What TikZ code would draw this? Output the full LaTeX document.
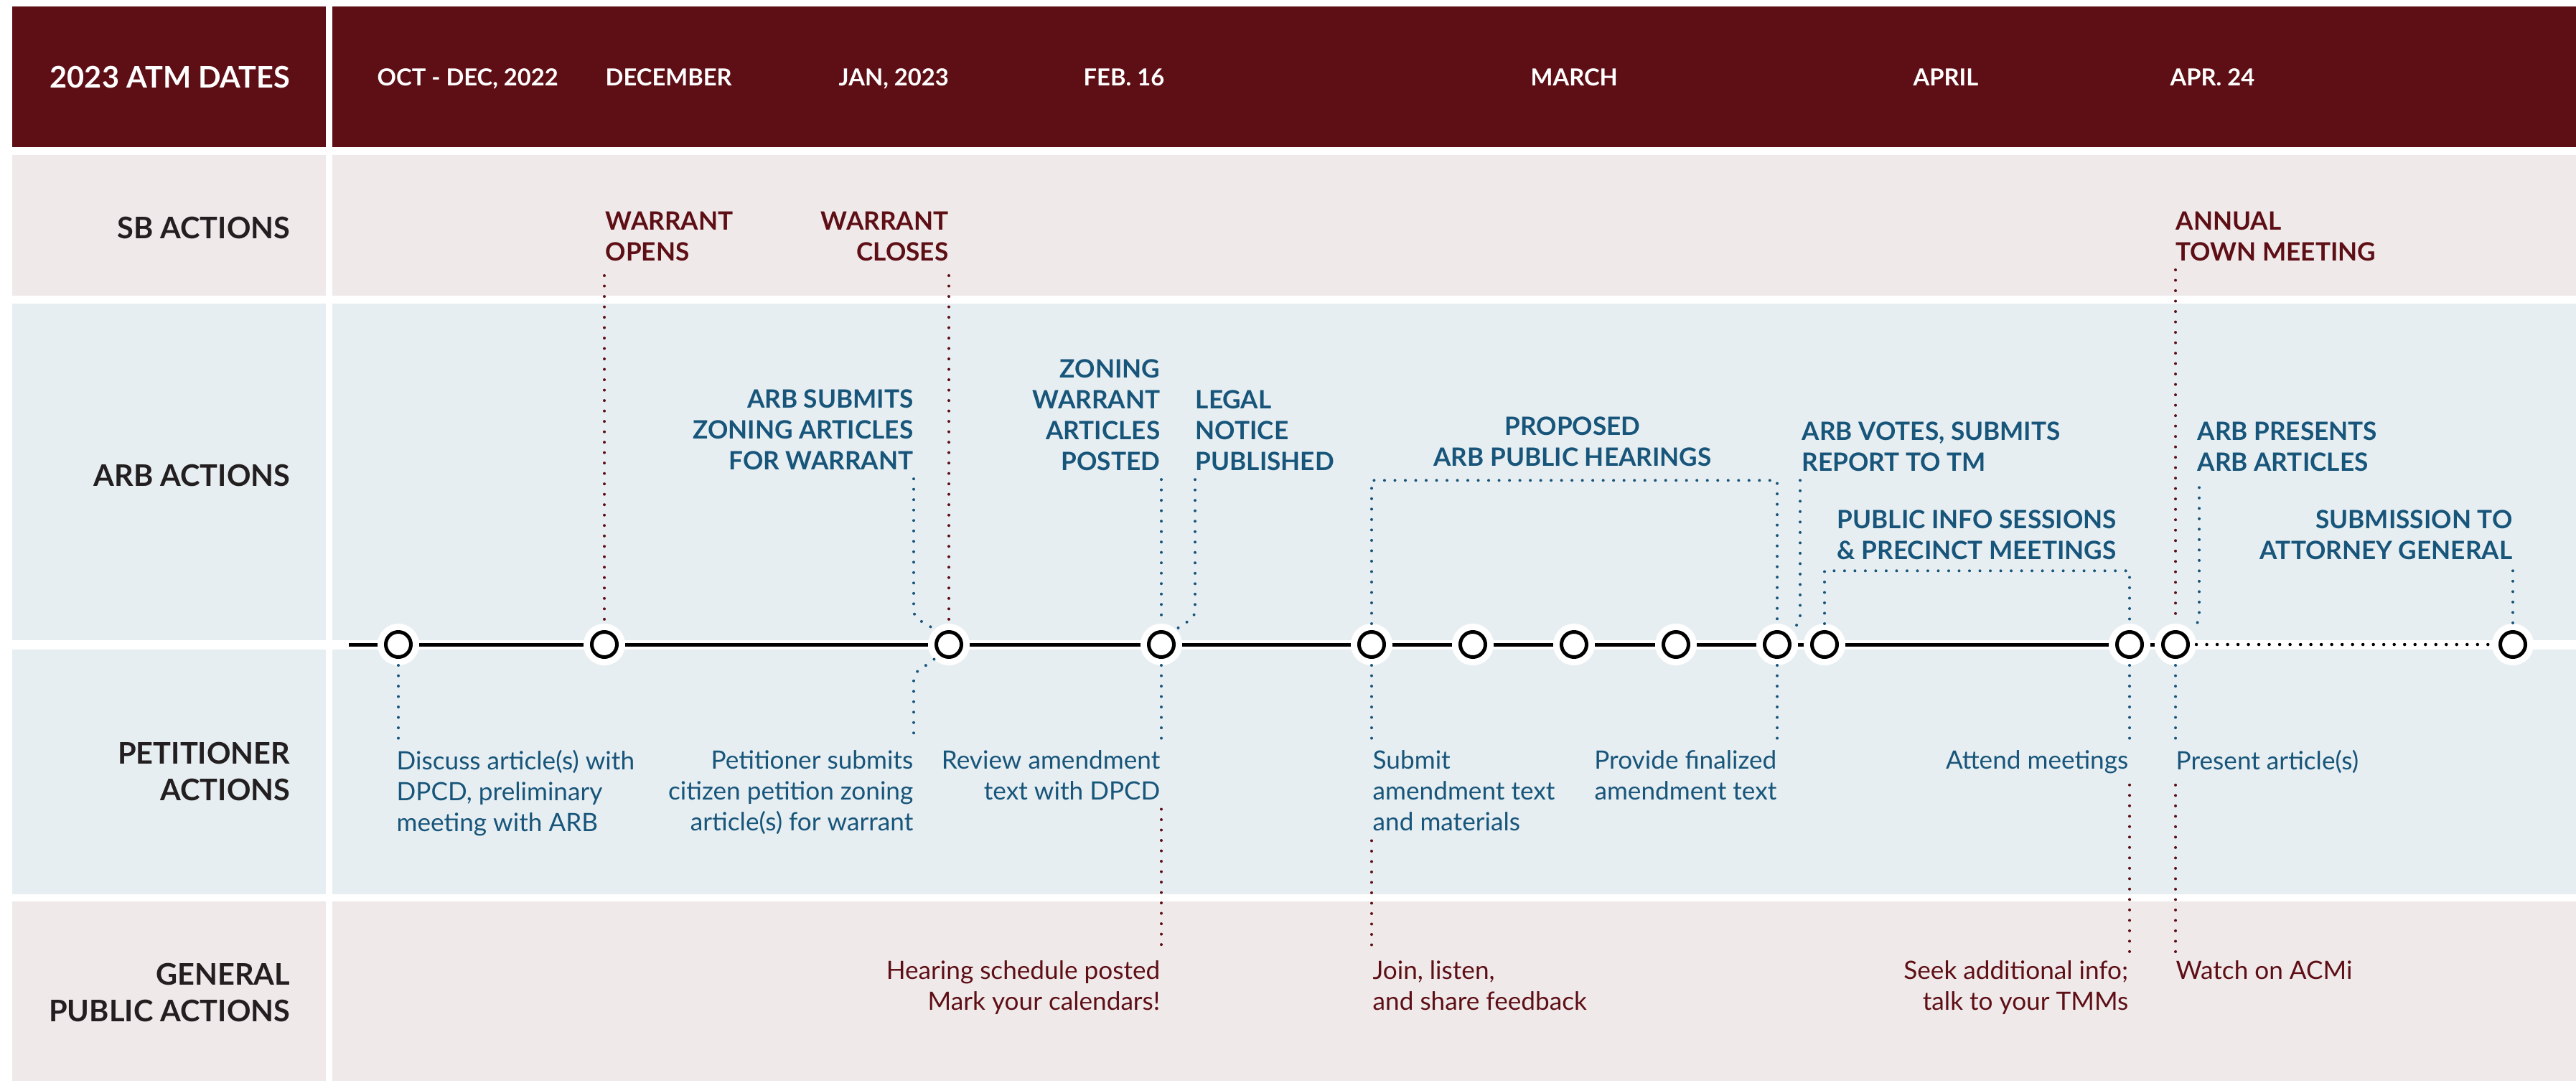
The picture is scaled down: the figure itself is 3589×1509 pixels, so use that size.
\documentclass[tikz,border=0pt]{standalone}
\usepackage{fontspec}
\setmainfont{Lato}
\newcommand{\lineY}{898}

\definecolor{atmred}{HTML}{5E0F15}
\definecolor{atmblue}{HTML}{17557A}
\definecolor{pinkrow}{HTML}{EFE9EA}
\definecolor{bluerow}{HTML}{E7EEF2}
\definecolor{labelink}{HTML}{231F20}

\begin{document}
\begin{tikzpicture}[x=0.01cm, y=-0.01cm,
    rowlabel/.style={anchor=east, align=right, inner sep=0pt, text=labelink, font=\fontsize{11.8}{14.5}\selectfont\bfseries},
    datelabel/.style={anchor=base west, inner sep=0pt, text=white, font=\fontsize{9.3}{12}\selectfont\bfseries},
    sbtext/.style={inner sep=0pt, text=atmred, font=\fontsize{10}{12.2}\selectfont\bfseries},
    arbtext/.style={inner sep=0pt, text=atmblue, font=\fontsize{10}{12.2}\selectfont\bfseries},
    pettext/.style={inner sep=0pt, text=atmblue, font=\fontsize{10}{12.2}\selectfont},
    pubtext/.style={inner sep=0pt, text=atmred, font=\fontsize{10}{12.2}\selectfont},
    milestone/.style={circle, draw=black, fill=white, line width=0.05cm, minimum size=0.35cm, inner sep=0pt, outer sep=0.115cm, preaction={draw=white, line width=0.23cm}},
    mainline/.style={draw=black, line width=0.05cm},
    dots/.style={line width=0.04cm, line cap=round, dash pattern=on 0pt off 0.145cm},
    sbline/.style={dots, draw=atmred},
    arbline/.style={dots, draw=atmblue}]
    \useasboundingbox (0,0) rectangle (3589,1509);

    % Row backgrounds
    \fill[atmred] (17,9) rectangle (454,205);
    \fill[atmred] (463,9) rectangle (3589,205);
    \fill[pinkrow] (17,216) rectangle (454,412);
    \fill[pinkrow] (463,216) rectangle (3589,412);
    \fill[bluerow] (17,423) rectangle (454,892);
    \fill[bluerow] (463,423) rectangle (3589,892);
    \fill[bluerow] (17,905) rectangle (454,1246);
    \fill[bluerow] (463,905) rectangle (3589,1246);
    \fill[pinkrow] (17,1256) rectangle (454,1506);
    \fill[pinkrow] (463,1256) rectangle (3589,1506);

    % Row labels
    \node[rowlabel, text=white] (hdr) at (405,107) {2023 ATM DATES};
    \node[rowlabel] (sb) at (405,317) {SB ACTIONS};
    \node[rowlabel] (arb) at (405,662) {ARB ACTIONS};
    \node[rowlabel] (pet) at (405,1075) {PETITIONER\\ACTIONS};
    \node[rowlabel] (gen) at (405,1383) {GENERAL\\PUBLIC ACTIONS};

    % Dates
    \node[datelabel] (d1) at (525,119) {OCT - DEC, 2022};
    \node[datelabel] (d2) at (843,119) {DECEMBER};
    \node[datelabel] (d3) at (1168,119) {JAN, 2023};
    \node[datelabel] (d4) at (1509,119) {FEB. 16};
    \node[datelabel] (d5) at (2132,119) {MARCH};
    \node[datelabel] (d6) at (2665,119) {APRIL};
    \node[datelabel] (d7) at (3023,119) {APR. 24};

    % Milestones
    \coordinate (start) at (486,\lineY);
    \node[milestone] (c1) at (555,\lineY) {};
    \node[milestone] (c2) at (842,\lineY) {};
    \node[milestone] (c3) at (1322,\lineY) {};
    \node[milestone] (c4) at (1618,\lineY) {};
    \node[milestone] (c5) at (1911,\lineY) {};
    \node[milestone] (c6) at (2052,\lineY) {};
    \node[milestone] (c7) at (2193,\lineY) {};
    \node[milestone] (c8) at (2335,\lineY) {};
    \node[milestone] (c9) at (2476,\lineY) {};
    \node[milestone] (c10) at (2542,\lineY) {};
    \node[milestone] (c11) at (2967,\lineY) {};
    \node[milestone] (c12) at (3031,\lineY) {};
    \node[milestone] (c13) at (3501,\lineY) {};

    \draw[mainline] (start) -- (c1) (c1) -- (c2) (c2) -- (c3) (c3) -- (c4) (c4) -- (c5)
        (c5) -- (c6) (c6) -- (c7) (c7) -- (c8) (c8) -- (c9) (c9) -- (c10) (c10) -- (c11) (c11) -- (c12);
    \draw[dots, draw=black, line width=0.045cm] (c12) -- (c13);

    % SB actions
    \node[sbtext, anchor=north west, align=left] (wopen) at (843,294) {WARRANT\\OPENS};
    \node[sbtext, anchor=north east, align=right] (wclose) at (1322,294) {WARRANT\\CLOSES};
    \node[sbtext, anchor=north west, align=left] (atm) at (3031,294) {ANNUAL\\TOWN MEETING};

    \draw[sbline, shorten <=0.2cm] (c2 |- wopen.south) -- (c2);
    \draw[sbline, shorten <=0.2cm] (c3 |- wclose.south) -- (c3);
    \draw[sbline, shorten <=0.12cm] (c12 |- atm.south) -- (c12);

    % ARB actions
    \node[arbtext, anchor=north east, align=right] (arbsub) at (1273,542) {ARB SUBMITS\\ZONING ARTICLES\\FOR WARRANT};
    \node[arbtext, anchor=north east, align=right] (posted) at (1617,500) {ZONING\\WARRANT\\ARTICLES\\POSTED};
    \node[arbtext, anchor=north west, align=left] (legal) at (1665,543) {LEGAL\\NOTICE\\PUBLISHED};
    \node[arbtext, anchor=north, align=center] (hear) at (2191,580) {PROPOSED\\ARB PUBLIC HEARINGS};
    \node[arbtext, anchor=north west, align=left] (votes) at (2510,587) {ARB VOTES, SUBMITS\\REPORT TO TM};
    \node[arbtext, anchor=north west, align=left] (pubinfo) at (2559,710) {PUBLIC INFO SESSIONS\\\& PRECINCT MEETINGS};
    \node[arbtext, anchor=north west, align=left] (arbpres) at (3061,587) {ARB PRESENTS\\ARB ARTICLES};
    \node[arbtext, anchor=north east, align=right] (attgen) at (3501,710) {SUBMISSION TO\\ATTORNEY GENERAL};

    \draw[arbline, shorten <=0.12cm] (arbsub.south east) -- (arbsub.south east |- 0,850) to[out=-90,in=135] (c3.135);
    \draw[arbline, shorten <=0.12cm] (c4 |- posted.south) -- (c4);
    \draw[arbline, shorten <=0.12cm] (legal.south west) -- (legal.south west |- 0,850) to[out=-90,in=45] (c4.45);
    \draw[arbline] (c5) |- ([yshift=-0.19cm]hear.south) -| (c9);
    \draw[arbline, shorten <=0.12cm] ([xshift=-0.02cm]votes.south west) -- ([xshift=-0.02cm]votes.south west |- 0,860) to[out=-90,in=45] (c9.45);
    \draw[arbline] (c10) |- ([yshift=-0.15cm]pubinfo.south) -| (c11);
    \draw[arbline, shorten <=0.22cm] ([xshift=0.03cm]arbpres.south west) -- ([xshift=0.03cm]arbpres.south west |- 0,860) to[out=-90,in=45] (c12.45);
    \draw[arbline, shorten <=0.15cm] (c13 |- attgen.south) -- (c13);

    % Petitioner actions
    \node[pettext, anchor=north west, align=left] (discuss) at (552,1045) {Discuss article(s) with\\DPCD, preliminary\\meeting with ARB};
    \node[pettext, anchor=north east, align=right] (petsub) at (1273,1045) {Petitioner submits\\citizen petition zoning\\article(s) for warrant};
    \node[pettext, anchor=north east, align=right] (review) at (1617,1045) {Review amendment\\text with DPCD};
    \node[pettext, anchor=north west, align=left] (submit) at (1912,1045) {Submit\\amendment text\\and materials};
    \node[pettext, anchor=north east, align=right] (provide) at (2476,1045) {Provide finalized\\amendment text};
    \node[pettext, anchor=north east, align=right] (attend) at (2966,1045) {Attend meetings};
    \node[pettext, anchor=north west, align=left] (present) at (3031,1045) {Present article(s)};

    \draw[arbline, shorten >=0.14cm] (c1) -- (c1 |- discuss.north);
    \draw[arbline, shorten >=0.14cm] (c3.225) to[out=225,in=90] (petsub.north east |- 0,948) -- (petsub.north east);
    \draw[arbline, shorten >=0.14cm] (c4) -- (c4 |- review.north);
    \draw[arbline, shorten >=0.14cm] (c5) -- (c5 |- submit.north);
    \draw[arbline, shorten >=0.14cm] (c9) -- (c9 |- provide.north);
    \draw[arbline, shorten >=0.14cm] (c11) -- (c11 |- attend.north);
    \draw[arbline, shorten >=0.14cm] (c12) -- (c12 |- present.north);

    % General public actions
    \node[pubtext, anchor=north east, align=right] (hsched) at (1617,1338) {Hearing schedule posted\\Mark your calendars!};
    \node[pubtext, anchor=north west, align=left] (join) at (1912,1338) {Join, listen,\\and share feedback};
    \node[pubtext, anchor=north east, align=right] (seek) at (2966,1338) {Seek additional info;\\talk to your TMMs};
    \node[pubtext, anchor=north west, align=left] (watch) at (3031,1338) {Watch on ACMi};

    \draw[sbline, shorten <=0.12cm, shorten >=0.1cm] (c4 |- review.south) -- (c4 |- hsched.north);
    \draw[sbline, shorten <=0.13cm, shorten >=0.1cm] (c5 |- submit.south) -- (c5 |- join.north);
    \draw[sbline, shorten <=0.15cm, shorten >=0.1cm] (c11 |- attend.south) -- (c11 |- seek.north);
    \draw[sbline, shorten <=0.15cm, shorten >=0.1cm] (c12 |- present.south) -- (c12 |- watch.north);

\end{tikzpicture}
\end{document}
